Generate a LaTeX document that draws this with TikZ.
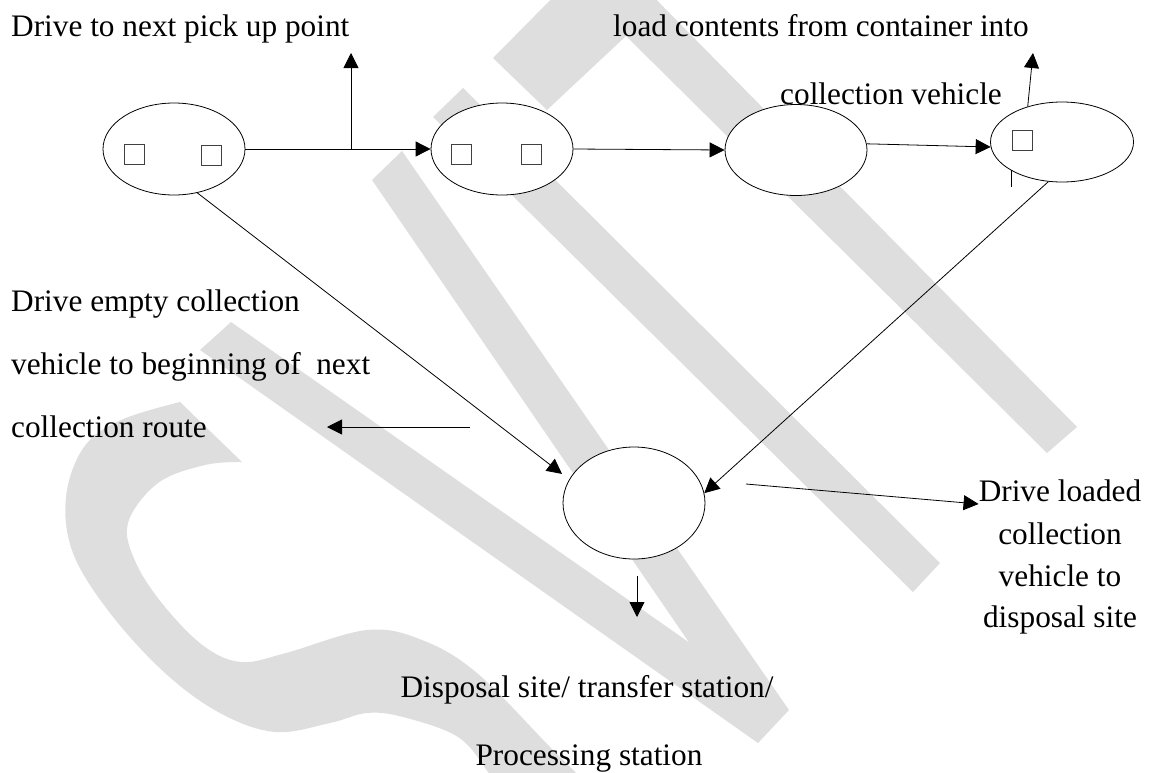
\documentclass[tikz,border=0pt]{standalone}
\usepackage{fontspec}
\setmainfont{Liberation Serif}
\usetikzlibrary{shapes.geometric,arrows.meta}
\begin{document}
\begin{tikzpicture}[x=1pt,y=-1pt,
  wm/.style={fill=black!13,draw=none},
  state/.style={ellipse,draw,line width=0.8pt,fill=white,inner sep=0pt},
  sq/.style={draw=black!75,line width=0.8pt,minimum size=20pt,inner sep=0pt},
  lbl/.style={inner sep=0pt,font=\fontsize{31.3}{38}\selectfont},
  conn/.style={line width=0.8pt,-{Triangle[length=15pt,width=15pt]}},
  plainline/.style={line width=0.8pt}]
\useasboundingbox (0,0) rectangle (1150,772);
% watermark
\begin{scope}
\clip (0,0) rectangle (1150,772);
\fill[wm] (493,58) -- (575,-25) -- (632,-25) -- (1077,427) -- (1047,453) -- (626,36) -- (547,110) -- cycle;
\fill[wm] (433,117) -- (463,88) -- (940,563) -- (913,592) -- cycle;
\fill[wm] (372,180) -- (402,151) -- (789,710) -- (758,743) -- cycle;
\fill[wm] (200,350) -- (231,322) -- (780,706) -- (758,743) -- cycle;
\fill[wm] plot[smooth,tension=0.6] coordinates {(180,402) (121,420) (84,447) (66,497) (73,553) (110,613) (165,673) (220,713) (275,732) (330,723) (367,713) (403,717) (458,737) (488,772) (505,800)}
  -- plot[smooth,tension=0.6] coordinates {(600,800) (575,772) (550,747) (477,673) (422,640) (367,630) (286,653) (242,662) (205,647) (165,607) (136,563) (128,523) (158,483) (205,465) (242,462)} -- cycle;
\end{scope}
% states
\node[state,minimum width=142pt,minimum height=92pt] (e1) at (174,149) {};
\node[state,minimum width=142pt,minimum height=92pt] (e2) at (502,149) {};
\node[state,minimum width=142pt,minimum height=91pt] (e3) at (796,150) {};
\node[state,minimum width=143pt,minimum height=80pt] (e4) at (1062,142) {};
\node[state,minimum width=142pt,minimum height=112pt] (e5) at (634,503) {};
\node[sq] (s1) at (134,154) {};
\node[sq] (s2) at (211,155) {};
\node[sq] (s3) at (461,154) {};
\node[sq] (s4) at (531,154) {};
\node[sq] (s5) at (1022,140) {};
% labels
\node[lbl,anchor=base west] (t1) at (11,36) {Drive to next pick up point};
\node[lbl,anchor=base west] (t2) at (613,36) {load contents from container into};
\node[lbl,anchor=base west] (t3) at (780,104) {collection vehicle};
\node[lbl,anchor=base west] (t4) at (11,311) {Drive empty collection};
\node[lbl,anchor=base west] (t5) at (11,374) {vehicle to beginning of\ \ next};
\node[lbl,anchor=base west] (t6) at (11,437) {collection route};
\node[lbl,anchor=base] (dl1) at (1060,501) {Drive loaded};
\node[lbl,anchor=base] (dl2) at (1060,544) {collection};
\node[lbl,anchor=base] (dl3) at (1060,586) {vehicle to};
\node[lbl,anchor=base] (dl4) at (1060,627) {disposal site};
\node[lbl,anchor=base] (t7) at (587,697) {Disposal site/ transfer station/};
\node[lbl,anchor=base] (t8) at (589,765) {Processing station};
% free ends
\coordinate (j1) at (351,149);
\coordinate (up1) at (351,53);
\coordinate (up2) at (1033,53);
\coordinate (tick) at (1011,187);
\coordinate (la0) at (470,427);
\coordinate (la1) at (327,427);
\coordinate (ra0) at (746,484);
\coordinate (da0) at (637,576);
\coordinate (da1) at (637,617);
% connectors
\draw[conn] (e1.east) -- (e2.west);
\draw[conn] (j1) -- (up1);
\draw[conn] (e2.east) -- (e3.west);
\draw[conn] (e3.5) -- (e4.184);
\draw[conn] (e4.134) -- (up2);
\draw[plainline] (e4.-151 -| tick) -- (tick);
\draw[conn,shorten >=9pt] (e1.-62) -- (e5.160);
\draw[conn] (e4.-109) -- (e5.8);
\draw[conn] (la0) -- (la1);
\draw[conn] (ra0) -- ([yshift=-3pt]dl1.base west);
\draw[conn] (da0) -- (da1);
\end{tikzpicture}
\end{document}
